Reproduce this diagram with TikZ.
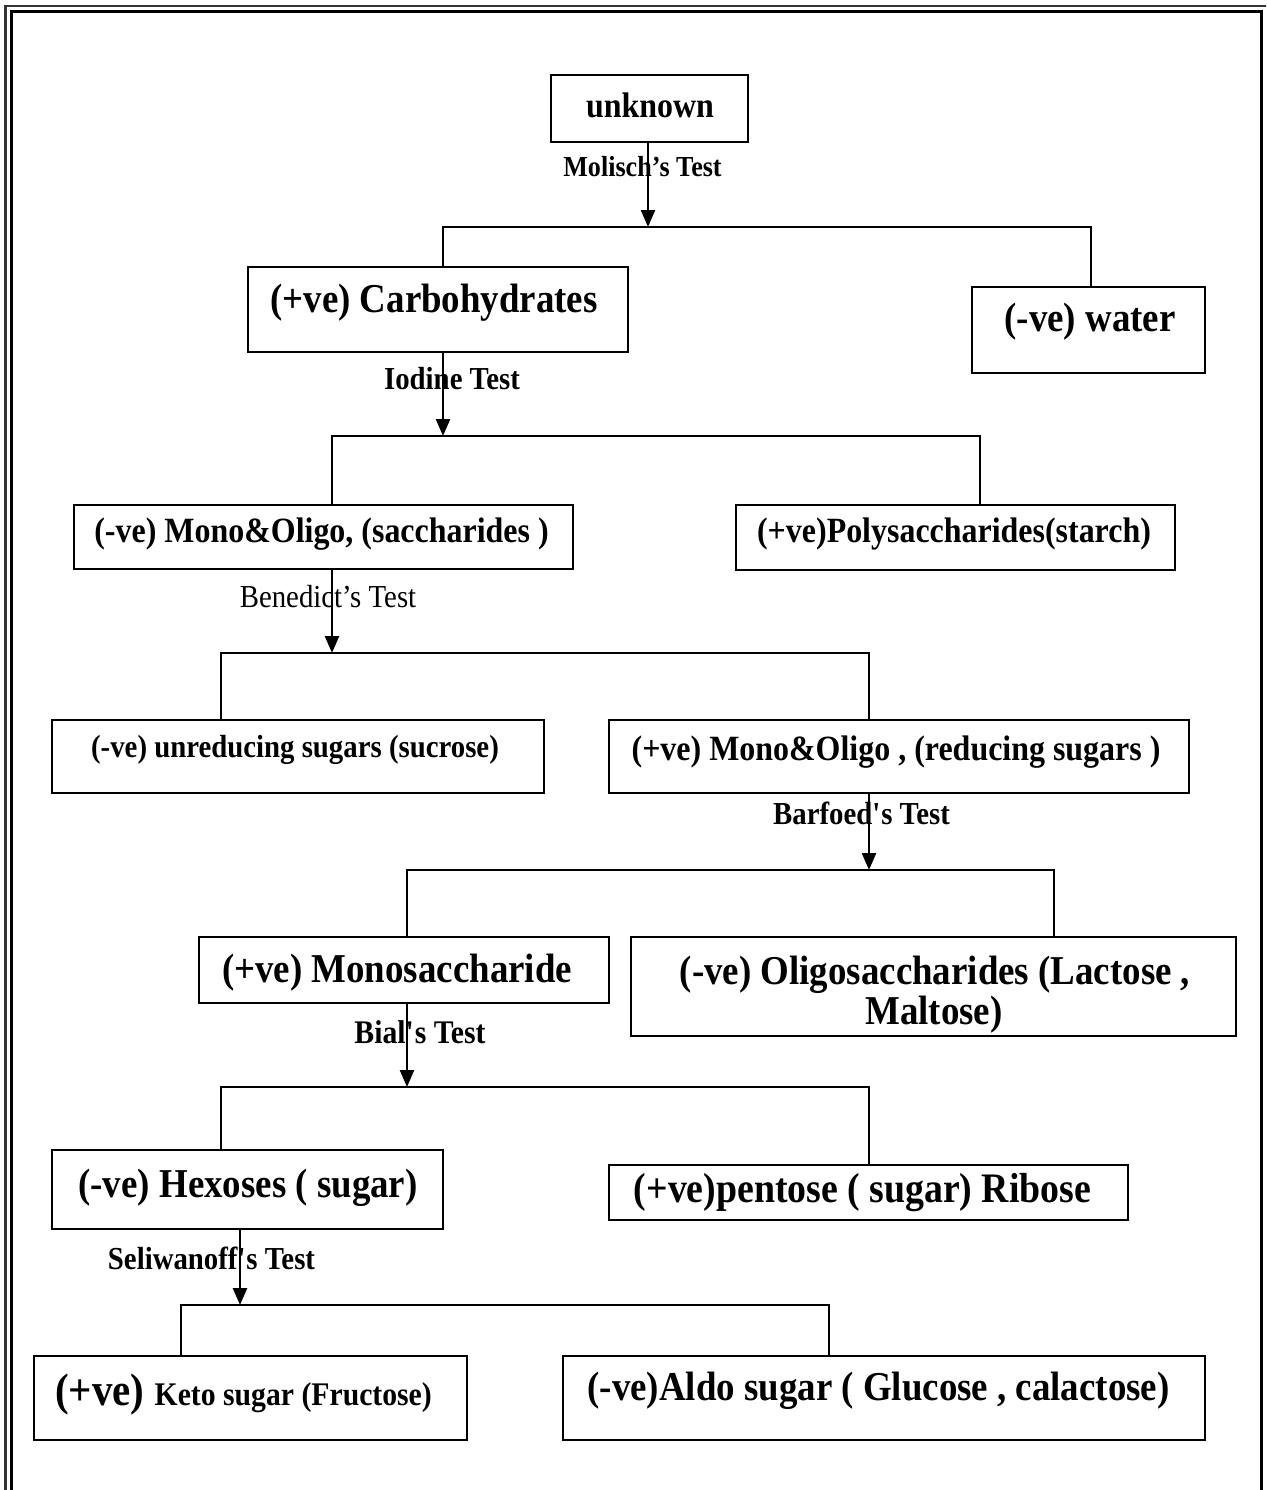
\documentclass[tikz,border=0pt]{standalone}
\usepackage{fontspec}
\setmainfont{Liberation Serif}[FakeStretch=0.9]
\usetikzlibrary{arrows.meta}
\newcommand\fsz[1]{\fontsize{#1pt}{#1pt}\selectfont}
\begin{document}
\begin{tikzpicture}[x=1pt,y=-1pt,
  box/.style={draw, line width=2pt, inner sep=0pt},
  txt/.style={inner sep=0pt, anchor=base},
  conn/.style={line width=2pt},
  arr/.style={line width=2.5pt, -{Triangle[length=17pt,width=14pt]}}]
\useasboundingbox (0,0) rectangle (1266,1490);
\begin{scope}
\clip (0,0) rectangle (1266,1490);
\draw[line width=2.5pt, black!80] (5.5,6) rectangle (1272,1500);
\draw[line width=3pt] (11.5,12) rectangle (1261.5,1500);
\end{scope}

% boxes
\node[box, minimum width=197pt, minimum height=67pt] (unk) at (649.5,108.5) {};
\node[box, minimum width=380pt, minimum height=85pt] (carb) at (438,309.5) {};
\node[box, minimum width=233pt, minimum height=86pt] (water) at (1088.5,330) {};
\node[box, minimum width=499pt, minimum height=64pt] (monoS) at (323.5,537) {};
\node[box, minimum width=439pt, minimum height=65pt] (poly) at (955.5,537.5) {};
\node[box, minimum width=492pt, minimum height=73pt] (unred) at (298,756.5) {};
\node[box, minimum width=580pt, minimum height=73pt] (red) at (899,756.5) {};
\node[box, minimum width=410pt, minimum height=66pt] (monosac) at (404,970) {};
\node[box, minimum width=605pt, minimum height=99pt] (oligo) at (933.5,986.5) {};
\node[box, minimum width=391pt, minimum height=79pt] (hex) at (247.5,1189.5) {};
\node[box, minimum width=519pt, minimum height=55pt] (pent) at (868.5,1192.5) {};
\node[box, minimum width=433pt, minimum height=84pt] (keto) at (250.5,1398) {};
\node[box, minimum width=642pt, minimum height=84pt] (aldo) at (884,1398) {};

% box texts
\node[txt, font=\bfseries\fsz{35.5}] (tUnk) at (650,118) {unknown};
\node[txt, font=\bfseries\fsz{41}] (tCarb) at (434,312) {(+ve) Carbohydrates};
\node[txt, font=\bfseries\fsz{41}] (tWater) at (1090,331) {(-ve) water};
\node[txt, font=\bfseries\fsz{35.5}] (tMonoS) at (321.5,542) {(-ve) Mono\&Oligo, (saccharides )};
\node[txt, font=\bfseries\fsz{35.5}] (tPoly) at (954,542) {(+ve)Polysaccharides(starch)};
\node[txt, font=\bfseries\fsz{32}] (tUnred) at (295,757) {(-ve) unreducing sugars (sucrose)};
\node[txt, font=\bfseries\fsz{35.5}] (tRed) at (896,760) {(+ve) Mono\&Oligo , (reducing sugars )};
\node[txt, font=\bfseries\fsz{41}] (tMonosac) at (397,982) {(+ve) Monosaccharide};
\node[txt, font=\bfseries\fsz{41}] (tOligo1) at (935,984) {(-ve) Oligosaccharides (Lactose ,};
\node[txt, font=\bfseries\fsz{41}] (tOligo2) at (934,1024) {Maltose)};
\node[txt, font=\bfseries\fsz{41}] (tHex) at (248,1197) {(-ve) Hexoses ( sugar)};
\node[txt, font=\bfseries\fsz{42}] (tPent) at (862.5,1202) {(+ve)pentose ( sugar) Ribose};
\node[txt, anchor=base west, font=\bfseries\fsz{45.5}] (tKeto) at (55,1405) {(+ve) {\fsz{33}Keto sugar (Fructose)}};
\node[txt, font=\bfseries\fsz{41}] (tAldo) at (878.5,1400) {(-ve)Aldo sugar ( Glucose , calactose)};

% test labels
\node[txt, font=\bfseries\fsz{29}] (lMol) at (642.5,177) {Molisch’s Test};
\node[txt, font=\bfseries\fsz{32}] (lIod) at (452,389) {Iodine Test};
\node[txt, font=\fsz{32}] (lBen) at (328,607) {Benedict’s Test};
\node[txt, font=\bfseries\fsz{32}] (lBar) at (861.5,824) {Barfoed\textquotesingle s Test};
\node[txt, font=\bfseries\fsz{33}] (lBia) at (420,1043) {Bial\textquotesingle s Test};
\node[txt, font=\bfseries\fsz{32}] (lSel) at (211.5,1269) {Seliwanoff\textquotesingle s Test};

% level 1
\coordinate (j1) at (648,227); \coordinate (j1l) at (443,227); \coordinate (j1r) at (1091,227);
\draw[arr] (j1 |- unk.south) -- (j1);
\draw[conn] (j1l |- carb.north) -- (j1l) -- (j1r) -- (j1r |- water.north);
% level 2
\coordinate (j2) at (443,436); \coordinate (j2l) at (332,436); \coordinate (j2r) at (980,436);
\draw[arr] (j2 |- carb.south) -- (j2);
\draw[conn] (j2l |- monoS.north) -- (j2l) -- (j2r) -- (j2r |- poly.north);
% level 3
\coordinate (j3) at (332,653); \coordinate (j3l) at (221,653); \coordinate (j3r) at (869,653);
\draw[arr] (j3 |- monoS.south) -- (j3);
\draw[conn] (j3l |- unred.north) -- (j3l) -- (j3r) -- (j3r |- red.north);
% level 4
\coordinate (j4) at (869,870); \coordinate (j4l) at (407,870); \coordinate (j4r) at (1054,870);
\draw[arr] (j4 |- red.south) -- (j4);
\draw[conn] (j4l |- monosac.north) -- (j4l) -- (j4r) -- (j4r |- oligo.north);
% level 5
\coordinate (j5) at (407,1087); \coordinate (j5l) at (221,1087); \coordinate (j5r) at (869,1087);
\draw[arr] (j5 |- monosac.south) -- (j5);
\draw[conn] (j5l |- hex.north) -- (j5l) -- (j5r) -- (j5r |- pent.north);
% level 6
\coordinate (j6) at (240,1305); \coordinate (j6l) at (181,1305); \coordinate (j6r) at (829,1305);
\draw[arr] (j6 |- hex.south) -- (j6);
\draw[conn] (j6l |- keto.north) -- (j6l) -- (j6r) -- (j6r |- aldo.north);
\end{tikzpicture}
\end{document}
